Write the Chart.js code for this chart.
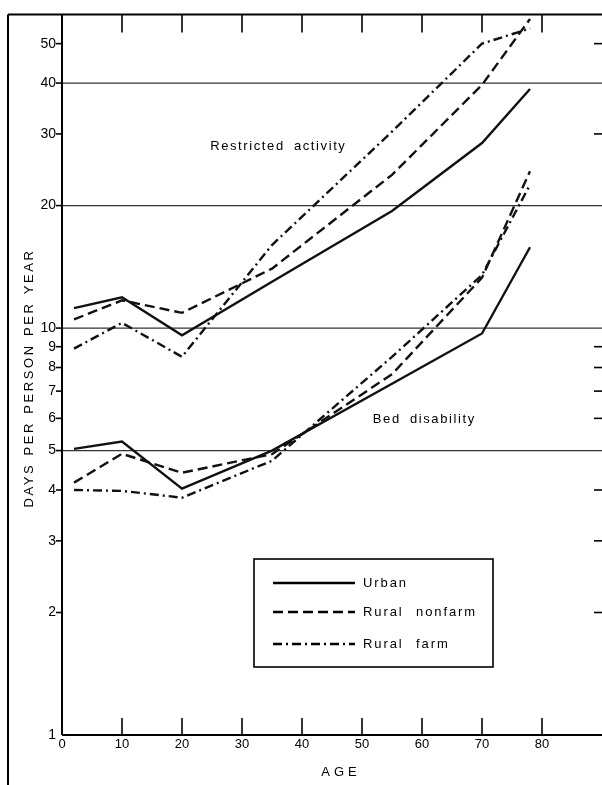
<!DOCTYPE html>
<html><head><meta charset="utf-8">
<script src="https://cdn.jsdelivr.net/npm/chart.js@4.4.1/dist/chart.umd.min.js"></script>
<style>html,body{margin:0;padding:0;background:#fff}canvas{display:block}</style>
</head><body>
<canvas id="c" width="602" height="785"></canvas>
<script>
const ages = [2, 10, 20, 35, 55, 70, 78];
const restrictedUrban        = [11.2, 11.9, 9.6, 13.0, 19.4, 28.5, 38.7];
const restrictedRuralNonfarm = [10.5, 11.7, 10.9, 14.0, 23.8, 39.6, 57.5];
const restrictedRuralFarm    = [8.9, 10.3, 8.5, 16.0, 30.4, 50.0, 54.5];
const bedUrban        = [5.05, 5.26, 4.03, 5.0, 7.3, 9.7, 15.8];
const bedRuralNonfarm = [4.17, 4.91, 4.41, 4.9, 7.7, 13.3, 24.3];
const bedRuralFarm    = [4.0, 3.98, 3.83, 4.72, 8.5, 13.5, 22.5];
const seriesNames = ['Urban', 'Rural nonfarm', 'Rural farm'];
const groupLabels = ['Restricted activity', 'Bed disability'];
const yTickValues = [1, 2, 3, 4, 5, 6, 7, 8, 9, 10, 20, 30, 40, 50];
const yGridValues = [5, 10, 20, 40];
const xTickValues = [0, 10, 20, 30, 40, 50, 60, 70, 80];
const yTitle = 'DAYS PER PERSON PER YEAR';
const xTitle = 'AGE';

const FONT = '"Liberation Sans", Arial, sans-serif';
const dashes = [[], [10, 5], [9, 4, 2, 4]];
const groups = [
  [restrictedUrban, restrictedRuralNonfarm, restrictedRuralFarm],
  [bedUrban, bedRuralNonfarm, bedRuralFarm]
];
const datasets = [];
groups.forEach((g, gi) => g.forEach((vals, si) => datasets.push({
  label: seriesNames[si] + ' – ' + groupLabels[gi],
  data: ages.map((a, i) => ({x: a, y: vals[i]})),
  borderColor: '#111', borderWidth: 2.4, borderDash: dashes[si],
  pointRadius: 0, tension: 0, fill: false
})));

function seg(ctx, x1, y1, x2, y2) { ctx.beginPath(); ctx.moveTo(x1, y1); ctx.lineTo(x2, y2); ctx.stroke(); }

const deco = {
  id: 'deco',
  beforeDatasetsDraw(chart) {
    const {ctx, chartArea: a, scales: {y}} = chart;
    ctx.save();
    ctx.strokeStyle = '#333'; ctx.lineWidth = 1.2;
    yGridValues.forEach(v => { const py = y.getPixelForValue(v); seg(ctx, a.left, py, a.right, py); });
    ctx.restore();
  },
  afterDraw(chart) {
    const {ctx, chartArea: a, scales: {x, y}} = chart;
    ctx.save();
    ctx.strokeStyle = '#000'; ctx.lineWidth = 2;
    // outer frame
    seg(ctx, 8, a.top, 8, chart.height);
    seg(ctx, 8, a.top, chart.width, a.top);
    // axes
    seg(ctx, a.left, a.top, a.left, a.bottom);
    seg(ctx, a.left, a.bottom, a.right, a.bottom);
    // y ticks
    ctx.lineWidth = 1.6;
    yTickValues.forEach(v => {
      const py = y.getPixelForValue(v);
      if (v !== 1) seg(ctx, a.left - 6, py, a.left, py);
      if (!yGridValues.includes(v) && v !== 1) seg(ctx, a.right - 8, py, a.right, py);
    });
    // x ticks
    xTickValues.forEach(v => {
      if (v === 0) return;
      const px = x.getPixelForValue(v);
      seg(ctx, px, a.bottom, px, a.bottom - 17);
      seg(ctx, px, a.top, px, a.top + 18);
    });
    // labels
    ctx.fillStyle = '#000';
    ctx.font = '13px ' + FONT;
    ctx.textBaseline = 'middle'; ctx.textAlign = 'left';
    ctx.letterSpacing = '1.6px';
    ctx.wordSpacing = '4px';
    ctx.fillText(groupLabels[0], x.getPixelForValue(24.7), y.getPixelForValue(27.9));
    ctx.fillText(groupLabels[1], x.getPixelForValue(51.8), y.getPixelForValue(5.95));
    // axis titles
    ctx.wordSpacing = '0px';
    ctx.letterSpacing = '4px';
    ctx.textAlign = 'center';
    ctx.fillText(xTitle, 341, 772);
    ctx.save();
    ctx.translate(29, 378); ctx.rotate(-Math.PI / 2);
    ctx.letterSpacing = '2.6px';
    ctx.wordSpacing = '1px';
    ctx.fillText(yTitle, 0, 0);
    ctx.restore();
    // legend
    ctx.lineWidth = 1.6;
    ctx.strokeRect(254, 559, 239, 108);
    const ly = [583, 612, 644];
    seriesNames.forEach((n, i) => {
      const ds = chart.data.datasets[i];
      ctx.save();
      ctx.lineWidth = ds.borderWidth; ctx.setLineDash(ds.borderDash);
      seg(ctx, 273, ly[i], 355, ly[i]);
      ctx.restore();
      ctx.textAlign = 'left'; ctx.letterSpacing = '1.9px'; ctx.wordSpacing = '7px';
      ctx.fillText(n, 363, ly[i]);
    });
    ctx.restore();
  }
};

new Chart(document.getElementById('c'), {
  type: 'line',
  data: {datasets},
  options: {
    responsive: false, animation: false,
    layout: {padding: {top: 12, left: 0, right: 0, bottom: 0}},
    plugins: {legend: {display: false}, tooltip: {enabled: false}},
    scales: {
      x: {
        type: 'linear', min: 0, max: 90,
        afterBuildTicks: s => { s.ticks = xTickValues.map(v => ({value: v})); },
        afterFit: s => { s.height = 50; },
        ticks: {font: {family: FONT, size: 13}, color: '#000', padding: 2, autoSkip: false, maxRotation: 0},
        grid: {display: false, drawTicks: false}, border: {display: false}
      },
      y: {
        type: 'logarithmic', min: 1, max: 59,
        afterBuildTicks: s => { s.ticks = yTickValues.map(v => ({value: v})); },
        afterFit: s => { s.width = 62; },
        ticks: {callback: v => String(v), font: {family: FONT, size: 14}, color: '#000', padding: 6, autoSkip: false},
        grid: {display: false, drawTicks: false}, border: {display: false}
      }
    }
  },
  plugins: [deco]
});
</script>
</body></html>
